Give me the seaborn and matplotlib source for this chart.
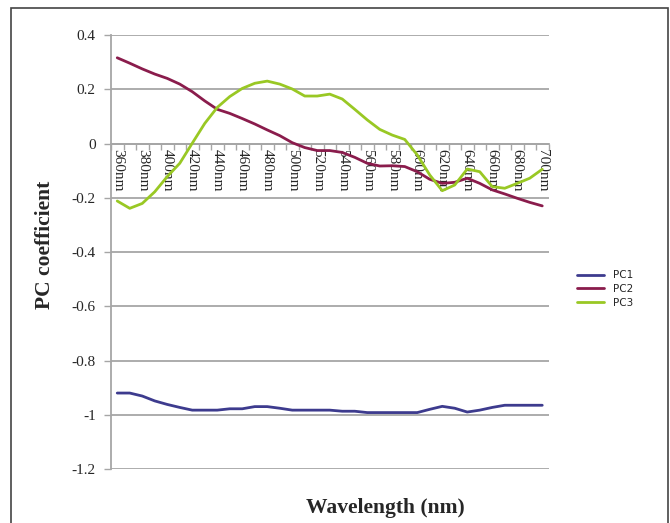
import matplotlib
matplotlib.use("Agg")
import matplotlib.pyplot as plt
import seaborn as sns
import pandas as pd
import numpy as np
from matplotlib.patches import Rectangle

wavelengths = [f"{w}nm" for w in range(360, 701, 10)]

pc1 = [-0.920, -0.920, -0.931, -0.949, -0.962, -0.973, -0.983, -0.983, -0.983,
       -0.978, -0.978, -0.970, -0.970, -0.976, -0.983, -0.983, -0.983, -0.983,
       -0.987, -0.987, -0.992, -0.992, -0.992, -0.992, -0.992, -0.980, -0.969,
       -0.976, -0.990, -0.983, -0.973, -0.965, -0.965, -0.965, -0.965]

pc2 = [0.316, 0.296, 0.275, 0.256, 0.240, 0.219, 0.191, 0.157, 0.126, 0.111,
       0.092, 0.072, 0.050, 0.029, 0.003, -0.015, -0.026, -0.026, -0.033,
       -0.051, -0.073, -0.083, -0.082, -0.085, -0.104, -0.132, -0.147, -0.143,
       -0.128, -0.147, -0.171, -0.186, -0.202, -0.217, -0.230]

pc3 = [-0.212, -0.239, -0.221, -0.178, -0.122, -0.073, 0.001, 0.074, 0.133,
       0.173, 0.203, 0.222, 0.230, 0.219, 0.201, 0.175, 0.175, 0.182, 0.164,
       0.126, 0.087, 0.052, 0.031, 0.015, -0.042, -0.116, -0.174, -0.153,
       -0.094, -0.104, -0.159, -0.165, -0.147, -0.128, -0.095]

series_names = ["PC1", "PC2", "PC3"]
colors = ["#3d3b8e", "#8a1c4c", "#99c824"]
y_ticks = [0.4, 0.2, 0, -0.2, -0.4, -0.6, -0.8, -1, -1.2]

rows = []
for name, vals in zip(series_names, [pc1, pc2, pc3]):
    for i, v in enumerate(vals):
        rows.append({"idx": i, "value": v, "series": name})
df = pd.DataFrame(rows)

sns.set_theme(style="white")
plt.rcParams["font.family"] = ["Liberation Serif", "DejaVu Serif"]

fig = plt.figure(figsize=(6.7, 5.23), dpi=100)
ax = fig.add_axes([111/670, 1-469/523, 438/670, 434/523])

for yv in y_ticks:
    ax.axhline(yv, color="#a6a6a6", lw=1.3, zorder=0)

sns.lineplot(data=df, x="idx", y="value", hue="series", palette=dict(zip(series_names, colors)),
             lw=2.0, ax=ax, legend=True, zorder=3)
ax.set_ylim(-1.2, 0.4)
ax.set_xlim(-0.46, 34.54)

for s in ["top", "right"]:
    ax.spines[s].set_visible(False)
ax.spines["bottom"].set_position(("data", 0))
ax.spines["bottom"].set_color("#a6a6a6")
ax.spines["bottom"].set_linewidth(1.3)
ax.spines["left"].set_color("#a6a6a6")
ax.spines["left"].set_linewidth(1.3)

ax.set_yticks(y_ticks)
ax.set_yticklabels([("%g" % v) for v in y_ticks], fontsize=11)
ax.tick_params(axis="y", direction="out", length=5, width=1, color="#a6a6a6", pad=6, left=True)

ax.set_xticks(np.arange(-0.5, 35, 1), minor=True)
ax.set_xticks(list(range(0, 35, 2)))
ax.set_xticklabels(wavelengths[::2], fontsize=11)
ax.tick_params(axis="x", which="major", length=0, pad=4, bottom=True, labelrotation=270)
ax.tick_params(axis="x", which="minor", direction="out", length=4, width=1, color="#a6a6a6", bottom=True)
for lab in ax.get_xticklabels():
    lab.set_ha("center")
    lab.set_va("top")

ax.set_xlabel("")
ax.set_ylabel("")
fig.text(45/670, 1-245/523, "PC coefficient", rotation=90, ha="center", va="center",
         fontsize=15.5, fontweight="bold")
fig.text(385/670, 1-508/523, "Wavelength (nm)", ha="center", va="center",
         fontsize=15.5, fontweight="bold")

handles, labels = ax.get_legend_handles_labels()
ax.legend(handles, labels, loc="center left", bbox_to_anchor=(568/670, 1-289/523),
          bbox_transform=fig.transFigure, frameon=False, handlelength=2.6,
          labelspacing=0.35, prop={"family": "DejaVu Sans", "size": 7.5})

fig.add_artist(Rectangle((11/670, -0.02), 657/670, 1-8/523+0.02, fill=False,
                         edgecolor="#444444", lw=1.2, transform=fig.transFigure))

fig.savefig("out.png", dpi=100)
